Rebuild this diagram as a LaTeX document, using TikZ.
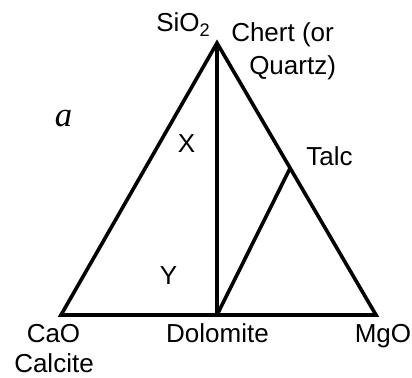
\documentclass[tikz,border=0pt]{standalone}
\usepackage{fontspec}
\setmainfont{Liberation Sans}
\newfontfamily\serifit{Liberation Serif}
\usepackage{tikz}
\usetikzlibrary{calc}

\tikzset{
    lbl/.style={inner sep=0pt, anchor=base, font=\fontsize{19.5}{23}\selectfont},
    edge/.style={line width=2.7pt, line join=miter}
}

\begin{document}
\begin{tikzpicture}[x=0.75pt, y=-0.75pt]
        \useasboundingbox (0,0) rectangle (412,378);

        \coordinate (si) at (217,43);
        \coordinate (ca) at (61,315);
        \coordinate (mg) at (376,315);
        \coordinate (dol) at (217,315);
        \coordinate (talc) at ($(si)!0.46!(mg)$);

        \draw[edge] (si) -- (ca) -- (mg) -- cycle;
        \draw[edge] (si) -- (dol);
        \draw[edge] (dol) -- (talc);

        \node[lbl, anchor=base west] (sio2) at (156,32) {SiO\textsubscript{2}};
        \node[lbl, anchor=base west] (chert) at (231,42) {Chert (or};
        \node[lbl, anchor=base west] (quartz) at (249,75) {Quartz)};
        \node[lbl] (cao) at (53.5,343) {CaO};
        \node[lbl] (calcite) at (54,373) {Calcite};
        \node[lbl] (dolomite) at (217.5,343) {Dolomite};
        \node[lbl] (mgo) at (383,343) {MgO};
        \node[lbl] (talclbl) at (329.5,166) {Talc};
        \node[lbl] (x) at (186.5,153) {X};
        \node[lbl] (y) at (168.5,285) {Y};
        \node[inner sep=0pt, anchor=base, font=\fontsize{26}{30}\serifit\itshape] (a) at (63.5,127) {a};
    \end{tikzpicture}
\end{document}
